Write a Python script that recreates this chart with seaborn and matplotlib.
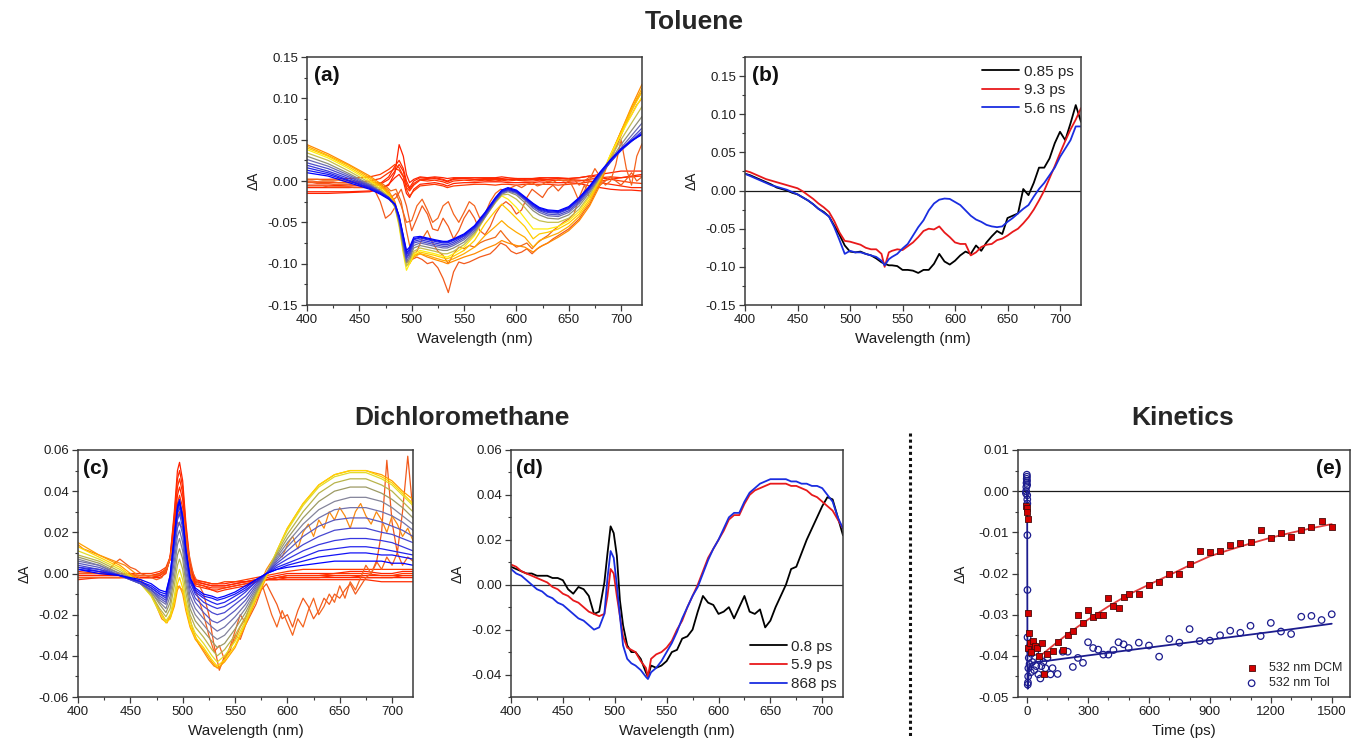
import matplotlib
matplotlib.use("Agg")
import matplotlib.pyplot as plt
from matplotlib.lines import Line2D
from matplotlib.ticker import MultipleLocator, FuncFormatter
import pandas as pd
import seaborn as sns

# ---------------------------------------------------------------- wavelength grids
wl_a = [400, 420, 440, 460, 470, 478, 484, 488, 492, 495, 498, 502, 508, 515, 522, 530,
        534, 540, 550, 560, 570, 580, 586, 592, 600, 608, 616, 622, 630, 640, 650, 660,
        670, 680, 690, 700, 710, 720]
wl_c = [400, 420, 440, 460, 470, 478, 484, 488, 492, 495, 497, 500, 503, 507, 512, 520,
        528, 533, 540, 550, 560, 570, 580, 590, 600, 615, 630, 645, 660, 675, 690, 700,
        710, 720]
wl_fine = list(range(400, 725, 5))
wl_b = [400, 405, 410, 415, 420, 425, 430, 435, 440, 445,
        450, 455, 460, 465, 470, 475, 480, 485, 490, 495,
        500, 505, 510, 515, 520, 525, 530, 533, 537, 540,
        545, 550, 555, 560, 565, 570, 575, 580, 585, 590,
        595, 600, 605, 610, 615, 620, 625, 630, 635, 640,
        645, 650, 655, 660, 665, 670, 675, 680, 685, 690,
        695, 700, 705, 710, 715, 720]
wl_d = [400, 405, 410, 415, 420, 425, 430, 435, 440, 445,
        450, 455, 460, 465, 470, 475, 480, 485, 490, 493,
        496, 499, 502, 505, 508, 512, 516, 520, 525, 530,
        532, 535, 540, 545, 550, 555, 560, 565, 570, 575,
        580, 585, 590, 595, 600, 605, 610, 615, 620, 625,
        630, 635, 640, 645, 650, 655, 660, 665, 670, 675,
        680, 685, 690, 695, 700, 705, 710, 715, 720]

# ---------------------------------------------------------------- (a) toluene, transient spectra
tol_r1 = [-.013, -.013, -.013, -.012, -.010, -.005, .010, .044, .030, .008, -.002, .002, .005, .004, .005, .004,
          .003, .004, .004, .004, .004, .004, .005, .004, .003, .003, .003, .004, .004, .004, .003, .004,
          .006, .008, .010, .012, .012, .012]
tol_r2 = [-.005, -.005, -.006, -.005, -.003, .005, .018, .025, .015, .000, -.008, .000, .004, .003, .004, .002,
          .000, .003, .003, .002, .002, .002, .002, .002, .002, .001, .002, .002, .002, .003, .002, .001,
          .000, -.002, -.004, -.006, -.008, -.008]
tol_r3 = [-.001, -.002, -.002, .000, .003, .010, .015, .013, .005, -.008, -.012, -.005, .001, .000, .001, -.001,
          -.003, .000, .001, .000, .001, .000, .001, .000, .001, .000, .000, .001, .000, .001, .000, .000,
          .002, .004, .005, .004, .005, .006]
tol_r4 = [-.015, -.015, -.014, -.013, -.010, -.004, .004, .008, .000, -.015, -.020, -.010, -.004, -.003, -.002, -.004,
          -.006, -.003, -.002, -.002, -.001, -.001, -.001, -.002, -.002, -.002, -.002, -.001, -.002, -.002, -.002, -.003,
          -.006, -.008, -.010, -.011, -.011, -.012]
tol_r5 = [.002, .002, .003, .005, .008, .014, .020, .016, .006, -.010, -.018, -.012, -.006, -.005, -.004, -.006,
          -.008, -.006, -.005, -.004, -.004, -.005, -.004, -.004, -.005, -.004, -.004, -.004, -.004, -.005, -.004, -.003,
          -.001, .000, .002, .000, -.002, -.003]
tol_r6 = [-.008, -.008, -.008, -.007, -.004, .002, .012, .020, .012, -.004, -.010, -.003, .002, .002, .003, .001,
          -.001, .002, .003, .002, .003, .003, .003, .002, .003, .002, .003, .003, .002, .003, .003, .004,
          .006, .004, .002, .004, .006, .008]

tol_n1 = [-.002, -.002, -.003, -.003, -.003, -.004, -.004, -.004, -.004, -.005, -.005, -.006, -.008, -.012,
          -.025, -.045, -.040, -.030, -.055, -.085, -.095, -.092, -.095, -.100, -.098, -.105, -.118, -.135,
          -.110, -.098, -.100, -.098, -.095, -.092, -.090, -.088, -.082, -.075, -.078, -.085, -.088, -.086,
          -.082, -.088, -.082, -.078, -.075, -.070, -.066, -.062, -.058, -.052, -.046, -.036, -.028, -.015,
          -.002, .015, .030, .045, .060, .072, .085, .098, .108]
tol_n2 = [.000, .000, -.001, -.001, -.001, -.001, -.002, -.002, -.002, -.002, -.003, -.003, -.004, -.004,
          -.005, -.010, -.020, -.015, -.030, -.050, -.048, -.030, -.022, -.035, -.050, -.045, -.030, -.025,
          -.040, -.050, -.038, -.025, -.030, -.045, -.040, -.025, -.015, -.010, -.012, -.008, -.005, -.008,
          -.004, -.002, -.006, -.004, .000, -.002, .002, .000, .002, -.010, -.025, -.012, .002, .015,
          .005, -.005, .000, .020, .050, .015, -.005, .030, .045]
tol_n3 = [.002, .002, .002, .001, .001, .001, .001, .000, .000, .000, -.001, -.001, -.001, -.002,
          -.002, -.006, -.012, -.010, -.025, -.060, -.090, -.085, -.070, -.060, -.075, -.085, -.090, -.100,
          -.088, -.080, -.082, -.078, -.080, -.075, -.072, -.070, -.068, -.060, -.068, -.075, -.080, -.078,
          -.075, -.082, -.075, -.070, -.066, -.060, -.055, -.050, -.046, -.040, -.020, -.005, -.020, -.010,
          .005, .015, .025, .040, .055, .070, .080, .092, .100]
tol_n4 = [-.006, -.006, -.006, -.006, -.007, -.007, -.007, -.007, -.007, -.008, -.008, -.008, -.008, -.008,
          -.008, -.010, -.025, -.020, -.010, -.030, -.060, -.045, -.030, -.040, -.058, -.060, -.045, -.055,
          -.070, -.060, -.045, -.035, -.045, -.060, -.065, -.055, -.040, -.030, -.025, -.030, -.040, -.035,
          -.020, -.010, -.015, -.020, -.010, -.005, -.012, -.005, .000, .002, -.005, .000, .005, .002,
          -.005, .000, .005, .000, -.005, .002, .010, .000, .005]

tol_y1 = [.044, .033, .020, .006, -.003, -.012, -.025, -.045, -.075, -.095, -.098, -.090, -.088, -.092, -.095, -.098,
          -.100, -.097, -.092, -.088, -.082, -.077, -.072, -.075, -.078, -.080, -.086, -.080, -.075, -.068, -.060, -.048,
          -.030, -.005, .030, .060, .090, .117]
tol_y2 = [.042, .031, .019, .004, -.005, -.014, -.028, -.050, -.080, -.098, -.100, -.092, -.088, -.090, -.093, -.096,
          -.097, -.094, -.088, -.080, -.066, -.055, -.048, -.055, -.062, -.068, -.080, -.072, -.068, -.063, -.055, -.043,
          -.025, .000, .032, .060, .088, .112]
tol_y3 = [.040, .030, .017, .002, -.007, -.016, -.030, -.052, -.083, -.102, -.100, -.090, -.086, -.088, -.090, -.093,
          -.094, -.091, -.084, -.072, -.052, -.036, -.028, -.035, -.045, -.055, -.070, -.064, -.062, -.058, -.051, -.040,
          -.022, .002, .032, .058, .085, .108]
tol_y4 = [.038, .028, .015, .000, -.009, -.018, -.032, -.055, -.088, -.108, -.100, -.088, -.084, -.086, -.088, -.091,
          -.092, -.088, -.080, -.066, -.044, -.026, -.018, -.022, -.032, -.045, -.058, -.058, -.058, -.055, -.048, -.037,
          -.019, .004, .032, .056, .080, .102]
tol_o1 = [.034, .025, .012, -.002, -.010, -.019, -.031, -.052, -.084, -.103, -.097, -.085, -.081, -.083, -.085, -.088,
          -.088, -.085, -.077, -.064, -.044, -.026, -.017, -.016, -.022, -.032, -.044, -.048, -.050, -.050, -.045, -.034,
          -.017, .004, .028, .050, .070, .090]
tol_o2 = [.030, .021, .009, -.004, -.012, -.020, -.031, -.050, -.080, -.099, -.094, -.081, -.078, -.080, -.082, -.084,
          -.084, -.081, -.074, -.062, -.044, -.025, -.016, -.013, -.017, -.026, -.036, -.041, -.045, -.046, -.041, -.030,
          -.014, .005, .025, .044, .061, .078]
tol_b6 = [.026, .018, .007, -.005, -.013, -.020, -.030, -.048, -.077, -.097, -.091, -.078, -.075, -.077, -.079, -.081,
          -.081, -.078, -.071, -.060, -.043, -.024, -.015, -.012, -.015, -.023, -.033, -.038, -.042, -.043, -.038, -.027,
          -.012, .006, .024, .040, .055, .070]
tol_b5 = [.022, .015, .005, -.006, -.013, -.020, -.029, -.046, -.074, -.094, -.088, -.075, -.073, -.075, -.077, -.079,
          -.079, -.076, -.069, -.058, -.042, -.023, -.014, -.011, -.014, -.022, -.031, -.036, -.040, -.041, -.036, -.025,
          -.010, .007, .023, .038, .051, .064]
tol_b4 = [.019, .012, .003, -.007, -.014, -.020, -.029, -.045, -.072, -.092, -.086, -.073, -.071, -.073, -.075, -.077,
          -.077, -.074, -.067, -.057, -.041, -.022, -.013, -.010, -.013, -.021, -.030, -.035, -.038, -.039, -.034, -.023,
          -.009, .008, .023, .037, .049, .060]
tol_b3 = [.016, .010, .001, -.008, -.014, -.020, -.028, -.044, -.070, -.089, -.084, -.071, -.069, -.071, -.073, -.075,
          -.075, -.072, -.066, -.056, -.040, -.022, -.013, -.010, -.013, -.020, -.029, -.034, -.037, -.038, -.033, -.022,
          -.008, .009, .024, .037, .048, .058]
tol_b2 = [.013, .008, .000, -.009, -.015, -.021, -.028, -.043, -.068, -.087, -.082, -.070, -.068, -.070, -.072, -.074,
          -.074, -.071, -.065, -.055, -.039, -.021, -.012, -.009, -.012, -.020, -.028, -.033, -.036, -.037, -.032, -.021,
          -.007, .010, .025, .038, .048, .057]
tol_b1 = [.010, .006, -.002, -.010, -.016, -.022, -.028, -.042, -.066, -.084, -.080, -.068, -.067, -.069, -.071, -.073,
          -.073, -.070, -.064, -.054, -.038, -.020, -.011, -.008, -.011, -.019, -.027, -.032, -.035, -.036, -.031, -.020,
          -.006, .011, .026, .039, .049, .056]

# ---------------------------------------------------------------- (b) toluene, selected delays
tol_sel_labels = ["0.85 ps", "9.3 ps", "5.6 ns"]
tol_085ps = [.022, .020, .017, .014, .011, .008, .004, .002, .000, -.003,
             -.005, -.009, -.013, -.018, -.024, -.028, -.034, -.046, -.058, -.072,
             -.080, -.081, -.080, -.083, -.085, -.089, -.094, -.096, -.098, -.098,
             -.099, -.104, -.104, -.105, -.108, -.104, -.104, -.096, -.083, -.093,
             -.097, -.092, -.085, -.080, -.083, -.072, -.079, -.068, -.060, -.053,
             -.057, -.036, -.033, -.030, .002, -.006, .010, .030, .030, .042,
             .062, .077, .066, .088, .112, .090]
tol_93ps = [.026, .024, .021, .018, .015, .013, .011, .009, .007, .005,
            .003, -.001, -.006, -.011, -.017, -.022, -.028, -.040, -.055, -.066,
            -.067, -.069, -.071, -.075, -.077, -.077, -.083, -.100, -.081, -.079,
            -.077, -.078, -.073, -.068, -.061, -.053, -.050, -.051, -.047, -.055,
            -.061, -.068, -.070, -.070, -.085, -.081, -.074, -.071, -.070, -.065,
            -.063, -.059, -.054, -.050, -.043, -.035, -.025, -.013, .000, .016,
            .032, .049, .065, .080, .093, .108]
tol_56ns = [.022, .019, .016, .013, .010, .007, .005, .003, .001, -.002,
            -.005, -.009, -.013, -.018, -.024, -.029, -.034, -.048, -.065, -.083,
            -.079, -.081, -.081, -.083, -.085, -.087, -.092, -.098, -.090, -.087,
            -.083, -.076, -.070, -.059, -.048, -.039, -.026, -.017, -.012, -.0105,
            -.011, -.015, -.019, -.026, -.033, -.038, -.041, -.045, -.047, -.048,
            -.047, -.041, -.036, -.030, -.024, -.019, -.008, .002, .010, .020,
            .030, .044, .055, .066, .084, .084]

# ---------------------------------------------------------------- (c) dichloromethane, transient spectra
dcm_r1 = [-.002, -.002, -.002, -.002, -.002, -.002, .000, .008, .030, .050, .054, .045, .025, .005, -.003, -.004,
          -.005, -.005, -.005, -.004, -.004, -.003, -.003, -.002, -.002, -.002, -.002, -.002, -.002, -.002, -.002, -.002,
          -.002, -.002]
dcm_r2 = [-.001, -.001, -.001, -.002, -.002, -.001, .001, .008, .028, .046, .050, .042, .023, .004, -.004, -.005,
          -.006, -.006, -.006, -.005, -.004, -.004, -.003, -.002, -.001, -.001, -.001, -.001, -.001, -.001, -.001, -.001,
          -.001, -.001]
dcm_r3 = [.000, .000, -.001, -.001, -.001, -.001, .001, .007, .025, .042, .046, .039, .021, .003, -.005, -.006,
          -.007, -.007, -.007, -.006, -.005, -.004, -.003, -.003, -.002, -.002, -.002, -.001, -.001, -.002, -.002, -.002,
          -.001, -.001]
dcm_r4 = [-.001, -.001, -.001, -.001, -.001, .000, .002, .007, .023, .038, .042, .036, .019, .002, -.004, -.005,
          -.006, -.006, -.006, -.005, -.004, -.003, -.002, -.001, .000, .000, .000, .000, .001, .001, .000, .000,
          .001, .001]
dcm_r5 = [.001, .000, .000, -.001, -.001, .000, .002, .007, .021, .034, .038, .032, .017, .001, -.005, -.006,
          -.008, -.008, -.007, -.006, -.005, -.004, -.003, -.002, -.001, -.001, -.001, .000, .000, .000, -.001, -.001,
          .000, .000]
dcm_r6 = [-.003, -.002, -.002, -.002, -.002, -.001, .002, .007, .019, .030, .034, .029, .015, .000, -.006, -.007,
          -.008, -.009, -.008, -.007, -.006, -.004, -.003, -.003, -.003, -.003, -.003, -.003, -.003, -.003, -.004, -.004,
          -.004, -.004]
dcm_r7 = [.000, .000, .000, .000, .000, .001, .003, .008, .018, .027, .030, .025, .013, .000, -.004, -.004,
          -.005, -.005, -.004, -.004, -.003, -.002, -.001, .000, .001, .002, .002, .002, .002, .002, .002, .002,
          .002, .002]

dcm_n1 = [.000, .000, .000, .000, .000, .001, .002, .005, .007, .005, .003, .002, .000, -.001,
          -.002, -.003, -.002, .002, .012, .028, .030, .012, .000, -.005, -.010, -.020, -.035, -.047,
          -.040, -.038, -.030, -.032, -.025, -.020, -.015, -.008, -.005, -.010, -.015, -.022, -.020, -.026,
          -.018, -.012, -.016, -.022, -.018, -.012, -.015, -.010, -.012, -.008, -.005, -.010, -.006, -.002,
          .000, .005, .020, .055, .025, .010, .030, .057, .030]
dcm_n2 = [-.002, -.002, -.002, -.002, -.002, -.002, -.002, -.002, -.002, -.001, -.001, -.001, -.001, -.001,
          -.001, -.001, .000, .003, .010, .025, .022, .008, -.005, -.012, -.020, -.030, -.038, -.035,
          -.042, -.036, -.028, -.020, -.024, -.018, -.010, -.004, -.012, -.020, -.026, -.018, -.024, -.030,
          -.022, -.026, -.018, -.012, -.020, -.016, -.010, -.014, -.006, -.012, -.004, -.008, -.002, .004,
          .000, .006, .002, .008, .004, .010, .004, .008, .006]
dcm_n3 = [.014, .012, .011, .010, .009, .008, .007, .006, .005, .004, .002, .000, -.003, -.006,
          -.010, -.016, -.022, -.024, -.018, -.006, -.008, -.018, -.028, -.034, -.038, -.042, -.045, -.046,
          -.042, -.036, -.032, -.026, -.022, -.015, -.010, -.004, .002, .006, .010, .008, .014, .018,
          .012, .020, .024, .018, .026, .022, .030, .026, .032, .028, .022, .030, .034, .028,
          .024, .030, .026, .020, .028, .024, .018, .022, .016]

dcm_y1 = [.015, .009, .004, -.004, -.010, -.018, -.023, -.022, -.016, -.008, -.006, -.010, -.018, -.026, -.032, -.037,
          -.043, -.046, -.043, -.036, -.025, -.013, -.002, .011, .022, .034, .043, .048, .050, .050, .048, .045,
          .040, .036]
dcm_y2 = [.013, .008, .003, -.005, -.011, -.019, -.024, -.022, -.014, -.005, -.002, -.007, -.016, -.025, -.031, -.036,
          -.042, -.045, -.042, -.035, -.024, -.012, -.001, .011, .022, .034, .043, .048, .050, .050, .047, .044,
          .039, .034]
dcm_y3 = [.011, .007, .002, -.005, -.011, -.019, -.023, -.020, -.011, -.001, .002, -.003, -.013, -.023, -.029, -.034,
          -.040, -.043, -.040, -.033, -.023, -.011, .000, .011, .021, .033, .042, .047, .049, .049, .046, .043,
          .038, .033]
dcm_o1 = [.009, .006, .001, -.005, -.010, -.017, -.021, -.017, -.006, .004, .007, .002, -.009, -.020, -.026, -.031,
          -.037, -.040, -.037, -.030, -.021, -.010, .000, .010, .019, .030, .039, .044, .046, .046, .043, .040,
          .035, .030]
dcm_o2 = [.008, .005, .000, -.005, -.009, -.015, -.019, -.014, -.002, .009, .012, .007, -.005, -.017, -.023, -.028,
          -.033, -.036, -.034, -.027, -.019, -.009, .000, .009, .017, .027, .035, .040, .042, .042, .039, .036,
          .032, .027]
dcm_o3 = [.007, .004, .000, -.005, -.009, -.014, -.017, -.011, .002, .014, .017, .011, -.002, -.014, -.020, -.025,
          -.030, -.032, -.030, -.024, -.017, -.008, .000, .008, .015, .024, .031, .035, .037, .037, .035, .032,
          .028, .024]
dcm_o4 = [.006, .004, -.001, -.005, -.008, -.013, -.015, -.008, .006, .018, .021, .015, .001, -.011, -.017, -.022,
          -.026, -.028, -.026, -.021, -.015, -.007, .000, .007, .013, .021, .027, .031, .032, .032, .030, .028,
          .025, .021]
dcm_b6 = [.005, .003, -.001, -.005, -.008, -.012, -.014, -.006, .010, .022, .025, .019, .004, -.008, -.014, -.019,
          -.023, -.024, -.022, -.018, -.013, -.006, .000, .006, .011, .018, .023, .026, .027, .027, .025, .023,
          .021, .018]
dcm_b5 = [.004, .002, -.001, -.005, -.008, -.011, -.013, -.004, .013, .026, .029, .022, .007, -.006, -.012, -.016,
          -.019, -.020, -.019, -.015, -.011, -.005, .000, .005, .009, .014, .018, .021, .022, .022, .020, .019,
          .017, .015]
dcm_b4 = [.003, .002, -.001, -.004, -.007, -.010, -.012, -.003, .015, .029, .032, .025, .009, -.004, -.010, -.014,
          -.016, -.017, -.016, -.013, -.009, -.004, .000, .004, .007, .011, .014, .016, .017, .017, .016, .015,
          .013, .011]
dcm_b3 = [.003, .001, -.001, -.004, -.007, -.010, -.011, -.002, .017, .031, .034, .027, .011, -.003, -.009, -.012,
          -.014, -.015, -.014, -.011, -.008, -.004, .000, .003, .005, .008, .011, .012, .013, .013, .012, .011,
          .010, .009]
dcm_b2 = [.002, .001, -.001, -.004, -.006, -.009, -.010, -.001, .018, .033, .036, .028, .012, -.002, -.008, -.011,
          -.012, -.013, -.012, -.010, -.007, -.003, .000, .002, .004, .006, .008, .009, .010, .010, .009, .009,
          .008, .007]
dcm_b1 = [.002, .000, -.001, -.003, -.005, -.008, -.009, -.001, .018, .032, .035, .027, .012, -.002, -.007, -.010,
          -.011, -.012, -.011, -.009, -.006, -.003, .000, .002, .003, .004, .005, .006, .006, .006, .006, .005,
          .005, .004]

# ---------------------------------------------------------------- (d) dichloromethane, selected delays
dcm_sel_labels = ["0.8 ps", "5.9 ps", "868 ps"]
dcm_08ps = [.008, .007, .006, .005, .005, .004, .004, .004, .003, .003,
            .002, -.002, -.004, -.001, -.002, -.005, -.013, -.012, .001, .014,
            .026, .023, .013, -.007, -.018, -.027, -.030, -.030, -.033, -.039,
            -.041, -.036, -.037, -.036, -.034, -.030, -.029, -.024, -.023, -.020,
            -.012, -.005, -.008, -.009, -.013, -.012, -.010, -.015, -.010, -.005,
            -.012, -.013, -.011, -.019, -.016, -.010, -.005, .000, .007, .008,
            .014, .020, .025, .030, .035, .039, .038, .030, .022]
dcm_59ps = [.009, .008, .006, .005, .004, .003, .002, .001, -.001, -.002,
            -.004, -.005, -.007, -.008, -.010, -.012, -.013, -.014, -.013, -.005,
            .007, .005, -.005, -.014, -.023, -.028, -.029, -.030, -.034, -.037,
            -.041, -.033, -.031, -.030, -.028, -.025, -.020, -.016, -.010, -.005,
            .000, .006, .012, .016, .020, .024, .029, .031, .031, .036,
            .040, .042, .043, .044, .045, .045, .045, .045, .044, .044,
            .043, .042, .040, .039, .037, .035, .033, .029, .025]
dcm_868ps = [.007, .005, .004, .002, .000, -.002, -.003, -.005, -.006, -.008,
             -.009, -.011, -.013, -.015, -.016, -.018, -.020, -.019, -.013, .003,
             .015, .012, .000, -.014, -.027, -.033, -.035, -.036, -.038, -.041,
             -.042, -.039, -.037, -.034, -.030, -.026, -.021, -.015, -.010, -.005,
             -.001, .005, .011, .016, .020, .025, .030, .032, .032, .037,
             .041, .043, .045, .046, .047, .047, .047, .047, .046, .046,
             .045, .045, .044, .044, .043, .040, .037, .030, .025]

# ---------------------------------------------------------------- (e) kinetics at 532 nm
t_dcm = [-4, -2, 0, 2, 3, 5, 10, 15, 20, 30,
         40, 50, 60, 75, 85, 100, 125, 150, 175, 200,
         225, 250, 275, 300, 325, 350, 375, 400, 425, 450,
         475, 500, 550, 600, 650, 700, 750, 800, 850, 900,
         950, 1000, 1050, 1100, 1150, 1200, 1250, 1300, 1350, 1400,
         1450, 1500]
dA_dcm = [-0.0035, -0.0040, -0.0050, -0.0068, -0.0295, -0.0380, -0.0345, -0.0370, -0.0390, -0.0365,
          -0.0375, -0.0380, -0.0400, -0.0370, -0.0445, -0.0395, -0.0388, -0.0366, -0.0385, -0.0350,
          -0.0340, -0.0301, -0.0320, -0.0289, -0.0305, -0.0302, -0.0301, -0.0260, -0.0280, -0.0285,
          -0.0258, -0.0250, -0.0249, -0.0229, -0.0220, -0.0200, -0.0201, -0.0177, -0.0145, -0.0148,
          -0.0145, -0.0130, -0.0127, -0.0124, -0.0095, -0.0114, -0.0101, -0.0111, -0.0095, -0.0086,
          -0.0073, -0.0087]
t_tol = [-6, -5, -4, -3, -2, -1.5, -1, -0.5, 0, 0.3,
         0.6, 0.9, 1.2, 1.5, 2, 3, 4, 5, 6, 8,
         10, 12, 15, 18, 20, 25, 30, 35, 40, 45,
         50, 55, 60, 65, 70, 80, 90, 100, 115, 125,
         150, 175, 200, 225, 250, 275, 300, 325, 350, 375,
         400, 425, 450, 475, 500, 550, 600, 650, 700, 750,
         800, 850, 900, 950, 1000, 1050, 1100, 1150, 1200, 1250,
         1300, 1350, 1400, 1450, 1500]
dA_tol = [-0.0005, 0.0000, 0.0010, 0.0020, 0.0030, 0.0040, 0.0035, 0.0025, 0.0015, -0.0010,
          -0.0020, -0.0030, -0.0107, -0.0240, -0.0355, -0.0470, -0.0465, -0.0450, -0.0430, -0.0405,
          -0.0385, -0.0420, -0.0375, -0.0440, -0.0395, -0.0415, -0.0370, -0.0435, -0.0390, -0.0425,
          -0.0380, -0.0445, -0.0410, -0.0455, -0.0425, -0.0415, -0.0430, -0.0405, -0.0445, -0.0430,
          -0.0444, -0.0390, -0.0390, -0.0427, -0.0405, -0.0417, -0.0367, -0.0381, -0.0385, -0.0397,
          -0.0397, -0.0386, -0.0367, -0.0372, -0.0381, -0.0368, -0.0375, -0.0402, -0.0359, -0.0368,
          -0.0335, -0.0364, -0.0363, -0.0350, -0.0339, -0.0344, -0.0327, -0.0352, -0.0320, -0.0341,
          -0.0347, -0.0305, -0.0303, -0.0313, -0.0299]
t_fit_dcm = [65, 100, 150, 200, 250, 300, 400, 500, 600, 700, 800, 900, 1000, 1100, 1200, 1300, 1400, 1500]
fit_dcm = [-0.0400, -0.0386, -0.0366, -0.0347, -0.0329, -0.0312, -0.0280, -0.0251, -0.0227, -0.0204,
           -0.0180, -0.0158, -0.0142, -0.0127, -0.0113, -0.0101, -0.0090, -0.0080]
t_fit_tol = [-2, 0, 0.5, 1, 1.5, 2, 3, 5, 10, 20, 40, 100, 300, 600, 900, 1200, 1500]
fit_tol = [0.0, -0.002, -0.012, -0.028, -0.040, -0.046, -0.048, -0.046, -0.043, -0.0418, -0.0415,
           -0.0412, -0.0399, -0.0380, -0.0361, -0.0342, -0.0322]
kin_labels = ["532 nm DCM", "532 nm Tol"]

# ---------------------------------------------------------------- trace tables and colours
RED, NOISY = "#ff2200", "#f25a1c"
tol_traces = [
    ("r1", wl_a, tol_r1, RED), ("r2", wl_a, tol_r2, "#ff2a00"), ("r3", wl_a, tol_r3, "#ff3300"),
    ("r4", wl_a, tol_r4, RED), ("r5", wl_a, tol_r5, "#ff3a00"), ("r6", wl_a, tol_r6, "#ff2800"),
    ("n1", wl_fine, tol_n1, NOISY), ("n2", wl_fine, tol_n2, "#f4641e"),
    ("n3", wl_fine, tol_n3, "#f06a18"), ("n4", wl_fine, tol_n4, "#f25a1c"),
    ("y1", wl_a, tol_y1, "#ff8a00"), ("y2", wl_a, tol_y2, "#ffaa00"),
    ("y3", wl_a, tol_y3, "#ffcc00"), ("y4", wl_a, tol_y4, "#ffee10"),
    ("o1", wl_a, tol_o1, "#c4be4c"), ("o2", wl_a, tol_o2, "#8e8e78"),
    ("b6", wl_a, tol_b6, "#6a6ab4"), ("b5", wl_a, tol_b5, "#4c4cca"), ("b4", wl_a, tol_b4, "#3838dc"),
    ("b3", wl_a, tol_b3, "#2626e8"), ("b2", wl_a, tol_b2, "#1414f4"), ("b1", wl_a, tol_b1, "#0000ff"),
]
dcm_traces = [
    ("r1", wl_c, dcm_r1, RED), ("r2", wl_c, dcm_r2, "#ff2a00"), ("r3", wl_c, dcm_r3, "#ff3000"),
    ("r4", wl_c, dcm_r4, "#ff2400"), ("r5", wl_c, dcm_r5, "#ff3600"), ("r6", wl_c, dcm_r6, "#ff2c00"),
    ("r7", wl_c, dcm_r7, "#ff3c00"),
    ("n1", wl_fine, dcm_n1, NOISY), ("n2", wl_fine, dcm_n2, "#f4641e"), ("n3", wl_fine, dcm_n3, "#f98a10"),
    ("y1", wl_c, dcm_y1, "#ffa000"), ("y2", wl_c, dcm_y2, "#ffd400"), ("y3", wl_c, dcm_y3, "#e2dc28"),
    ("o1", wl_c, dcm_o1, "#b8b44a"), ("o2", wl_c, dcm_o2, "#9c9a64"), ("o3", wl_c, dcm_o3, "#84849a"),
    ("o4", wl_c, dcm_o4, "#7272ac"),
    ("b6", wl_c, dcm_b6, "#5a5ac0"), ("b5", wl_c, dcm_b5, "#4848d0"), ("b4", wl_c, dcm_b4, "#3636e0"),
    ("b3", wl_c, dcm_b3, "#2424ec"), ("b2", wl_c, dcm_b2, "#1212f6"), ("b1", wl_c, dcm_b1, "#0000ff"),
]


def long_frame(traces):
    parts = [pd.DataFrame({"wl": wl, "dA": vals, "trace": name}) for name, wl, vals, _ in traces]
    return pd.concat(parts, ignore_index=True)


def selected_frame(wl, series, labels):
    parts = [pd.DataFrame({"wl": wl, "dA": vals, "delay": lab}) for vals, lab in zip(series, labels)]
    return pd.concat(parts, ignore_index=True)


# ---------------------------------------------------------------- styling
sns.set_theme(style="ticks")
plt.rcParams["font.family"] = ["Liberation Sans", "DejaVu Sans"]
plt.rcParams["axes.unicode_minus"] = False
plt.rcParams["axes.facecolor"] = "white"

SPINE = "#3a3a3a"
two_decimals = FuncFormatter(lambda v, pos: "%.2f" % (0.0 if abs(v) < 1e-9 else v))


def style_axes(ax, xlim, ylim, xmaj, xmin, ymaj, ymin, xlabel, ypad=5):
    ax.set_xlim(*xlim)
    ax.set_ylim(*ylim)
    ax.xaxis.set_major_locator(MultipleLocator(xmaj))
    ax.xaxis.set_minor_locator(MultipleLocator(xmin))
    ax.yaxis.set_major_locator(MultipleLocator(ymaj))
    ax.yaxis.set_minor_locator(MultipleLocator(ymin))
    ax.yaxis.set_major_formatter(two_decimals)
    for sp in ax.spines.values():
        sp.set_visible(True)
        sp.set_color(SPINE)
        sp.set_linewidth(1.1)
    ax.tick_params(which="both", direction="out", top=False, right=False,
                   color=SPINE, labelcolor="#1e1e1e", labelsize=9.5)
    ax.tick_params(which="major", length=4, width=0.9, pad=2.5)
    ax.tick_params(which="minor", length=2.5, width=0.8)
    ax.set_xlabel(xlabel, fontsize=11, labelpad=4, color="#1e1e1e")
    ax.set_ylabel("ΔA", fontsize=10, labelpad=ypad, color="#1e1e1e")


def panel_tag(ax, tag, x=0.022, ha="left"):
    ax.text(x, 0.925, tag, transform=ax.transAxes, fontsize=15, fontweight="bold",
            ha=ha, va="center", color="#111111")


W, H = 1351, 743
fig = plt.figure(figsize=(W / 100, H / 100), dpi=100)


def axes_px(left, top, right, bottom):
    return fig.add_axes([left / W, 1 - bottom / H, (right - left) / W, (bottom - top) / H])


ax_a = axes_px(307, 57, 642, 305)
ax_b = axes_px(745, 57, 1081, 305)
ax_c = axes_px(78, 450, 413, 697)
ax_d = axes_px(511, 450, 843, 697)
ax_e = axes_px(1018, 450, 1350, 697)

# (a) and (c): families of spectra coloured from early (red) to late (blue)
for ax, traces in ((ax_a, tol_traces), (ax_c, dcm_traces)):
    df = long_frame(traces)
    order = [t[0] for t in traces]
    pal = {t[0]: t[3] for t in traces}
    sns.lineplot(data=df, x="wl", y="dA", hue="trace", hue_order=order, palette=pal,
                 units="trace", estimator=None, sort=False, legend=False, lw=0.9, ax=ax)

style_axes(ax_a, (400, 720), (-0.15, 0.15), 50, 25, 0.05, 0.025, "Wavelength (nm)")
style_axes(ax_c, (400, 720), (-0.06, 0.06), 50, 25, 0.02, 0.01, "Wavelength (nm)")
panel_tag(ax_a, "(a)")
panel_tag(ax_c, "(c)", x=0.015)

# (b): three selected delays in toluene
df_b = selected_frame(wl_b, [tol_085ps, tol_93ps, tol_56ns], tol_sel_labels)
ax_b.axhline(0, color="#1a1a1a", lw=0.9, zorder=1)
sns.lineplot(data=df_b, x="wl", y="dA", hue="delay", hue_order=tol_sel_labels,
             palette=["#000000", "#e8191b", "#1a2de0"], estimator=None, sort=False,
             lw=1.3, ax=ax_b)
style_axes(ax_b, (400, 720), (-0.15, 0.175), 50, 25, 0.05, 0.025, "Wavelength (nm)")
panel_tag(ax_b, "(b)")
sns.move_legend(ax_b, "upper right", title=None, frameon=False, fontsize=11,
                handlelength=2.4, handletextpad=0.3, labelspacing=0.3,
                borderaxespad=0.3, borderpad=0.2)

# (d): three selected delays in dichloromethane
df_d = selected_frame(wl_d, [dcm_08ps, dcm_59ps, dcm_868ps], dcm_sel_labels)
ax_d.axhline(0, color="#333333", lw=0.9, zorder=1)
sns.lineplot(data=df_d, x="wl", y="dA", hue="delay", hue_order=dcm_sel_labels,
             palette=["#000000", "#e8191b", "#1a2de0"], estimator=None, sort=False,
             lw=1.3, ax=ax_d)
style_axes(ax_d, (400, 720), (-0.05, 0.06), 50, 25, 0.02, 0.01, "Wavelength (nm)")
panel_tag(ax_d, "(d)", x=0.015)
sns.move_legend(ax_d, "lower right", title=None, frameon=False, fontsize=11,
                handlelength=2.4, handletextpad=0.3, labelspacing=0.3,
                borderaxespad=0.15, borderpad=0.25)

# (e): kinetics with fitted curves
ax_e.axhline(0, color="#1a1a1a", lw=0.9, zorder=1)
sns.scatterplot(x=t_tol, y=dA_tol, marker="o", s=22, color="#1c1c8e", linewidth=0.9,
                ax=ax_e, zorder=3)
tol_pts = ax_e.collections[-1]
tol_pts.set_facecolor("none")
tol_pts.set_edgecolor("#1c1c8e")
sns.lineplot(x=t_fit_tol, y=fit_tol, color="#1c1c8e", lw=1.3, sort=False, estimator=None,
             ax=ax_e, zorder=4)
sns.lineplot(x=t_fit_dcm, y=fit_dcm, color="#e23a3a", lw=1.3, sort=False, estimator=None,
             ax=ax_e, zorder=4)
sns.scatterplot(x=t_dcm, y=dA_dcm, marker="s", s=20, color="#d40000", edgecolor="#4a0a0a",
                linewidth=0.6, ax=ax_e, zorder=5)
dcm_pts = ax_e.collections[-1]
style_axes(ax_e, (-45, 1590), (-0.05, 0.01), 300, 100, 0.01, 0.005, "Time (ps)", ypad=8)
panel_tag(ax_e, "(e)", x=0.975, ha="right")
ax_e.legend([dcm_pts, tol_pts], kin_labels, loc="lower right", frameon=False, fontsize=9,
            scatterpoints=1, handlelength=1.0, handletextpad=0.9, labelspacing=0.25,
            borderaxespad=0.3, borderpad=0.3)

# section titles and separator
fig.text(694 / W, 1 - 22 / H, "Toluene", ha="center", va="center", fontsize=19, fontweight="bold")
fig.text(462 / W, 1 - 418 / H, "Dichloromethane", ha="center", va="center", fontsize=19,
         fontweight="bold")
fig.text(1183 / W, 1 - 418 / H, "Kinetics", ha="center", va="center", fontsize=19, fontweight="bold")
fig.add_artist(Line2D([910 / W, 910 / W], [1 - 433 / H, 1 - 738 / H], transform=fig.transFigure,
                      color="#111111", lw=2.2, linestyle=(0, (1, 1)), solid_capstyle="butt"))

fig.savefig("out.png", dpi=100, facecolor="white")
